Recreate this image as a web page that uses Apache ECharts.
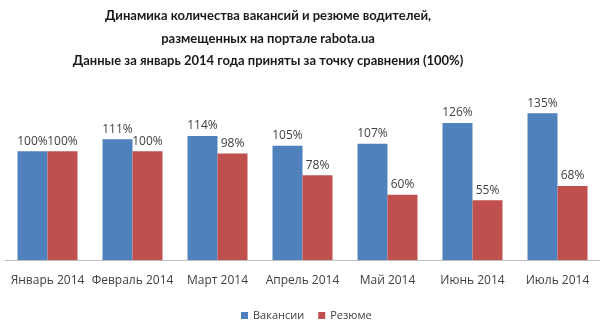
<!DOCTYPE html>
<html><head><meta charset="utf-8">
<script src="https://cdn.jsdelivr.net/npm/echarts@6/dist/echarts.min.js"></script>
<style>html,body{margin:0;padding:0;background:#fff}#c{width:600px;height:335px}</style>
</head><body><div id="c"></div>
<script>
const categories = ['Январь 2014','Февраль 2014','Март 2014','Апрель 2014','Май 2014','Июнь 2014','Июль 2014'];
const vacancies = [100,111,114,105,107,126,135];
const resumes = [100,100,98,78,60,55,68];
const seriesNames = ['Вакансии','Резюме'];
const titleLines = ['Динамика количества вакансий и резюме водителей,','размещенных на портале rabota.ua','Данные за январь 2014 года приняты за точку сравнения (100%)'];

const chart = echarts.init(document.getElementById('c'));
const font = '"Open Sans", "Noto Sans", sans-serif';
const lbl = {show:true, position:'top', distance:4, formatter:'{c}%', color:'#404040', fontSize:12, fontFamily:font};
chart.setOption({
  animation:false,
  title:{text:titleLines.join('\n'), left:263, textAlign:'center', top:0, textStyle:{fontSize:13, fontWeight:'bold', color:'#1a1a1a', fontFamily:'Lato, "Open Sans", sans-serif', lineHeight:22.5}},
  legend:{bottom:9, left:236, itemWidth:7, itemHeight:7, itemGap:14, icon:'rect', textStyle:{fontSize:11, color:'#404040', fontFamily:font}, data:seriesNames},
  grid:{left:5, right:0, top:86, bottom:75},
  xAxis:{type:'category', data:categories, axisTick:{show:false}, axisLine:{lineStyle:{color:'#bfbfbf'}}, axisLabel:{color:'#404040', fontSize:12, fontFamily:font, margin:15, interval:0}},
  yAxis:{type:'value', min:0, max:160, show:false, splitLine:{show:false}},
  series:[
    {name:seriesNames[0], type:'bar', data:vacancies, barWidth:30, barGap:'0%', itemStyle:{color:'#4f81bd'}, label:lbl},
    {name:seriesNames[1], type:'bar', data:resumes, barWidth:30, barGap:'0%', itemStyle:{color:'#c0504d'}, label:lbl}
  ]
});
</script></body></html>
